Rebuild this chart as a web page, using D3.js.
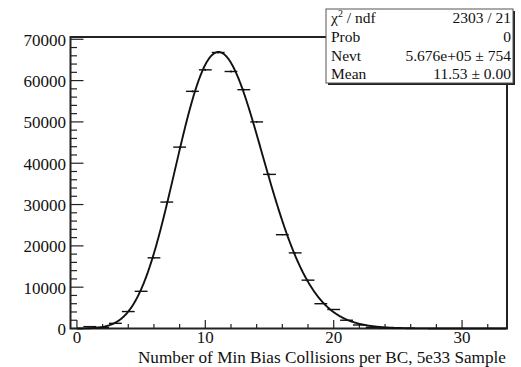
<!DOCTYPE html>
<html>
<head>
<meta charset="utf-8">
<script src="https://cdn.jsdelivr.net/npm/d3@7"></script>
<style>
  html, body { margin: 0; padding: 0; background: #fff; }
  svg { display: block; }
  text { font-family: "Liberation Serif", "Times New Roman", Times, serif; fill: #111; }
</style>
</head>
<body>
<svg id="chart" width="521" height="367"></svg>
<script>
// Histogram: entries per bin (bin centres 0..33, width 1)
const binCenters = d3.range(0, 34);
const binCounts = [
  0, 450, 250, 1250, 4100, 9000, 17100, 30600, 43900, 57400,
  62600, 66800, 62200, 57800, 50000, 37300, 22700, 18300, 11700, 6000,
  4600, 2000, 850, 300, 100, 30, 0, 0, 0, 0,
  0, 0, 0, 0
];
const xTicks = [0, 10, 20, 30];
const yTicks = [0, 10000, 20000, 30000, 40000, 50000, 60000, 70000];

// Poisson fit parameters
const fitNevt = 5.676e5;
const fitMean = 11.53;
const statRows = [
  ["χ2 / ndf", "2303 / 21"],
  ["Prob", "0"],
  ["Nevt", "5.676e+05 ± 754"],
  ["Mean", "11.53 ± 0.00"]
];
const xTitle = "Number of Min Bias Collisions per BC, 5e33 Sample";

const svg = d3.select("#chart");
const frame = { left: 70.5, right: 507, top: 37, bottom: 328.5 };

const x = d3.scaleLinear().domain([-0.5, 33.5]).range([frame.left, frame.right]);
const y = d3.scaleLinear().domain([0, 70550]).range([frame.bottom, frame.top]);

// log-gamma (Lanczos) for the continuous Poisson curve
function lgamma(z) {
  const g = 7;
  const c = [0.99999999999980993, 676.5203681218851, -1259.1392167224028,
    771.32342877765313, -176.61563092953313, 12.507343278686905,
    -0.13857109526572012, 9.9843695780195716e-6, 1.5056327351493116e-7];
  if (z < 0.5) return Math.log(Math.PI / Math.sin(Math.PI * z)) - lgamma(1 - z);
  z -= 1;
  let a = c[0];
  const t = z + g + 0.5;
  for (let i = 1; i < g + 2; i++) a += c[i] / (z + i);
  return 0.5 * Math.log(2 * Math.PI) + (z + 0.5) * Math.log(t) - t + Math.log(a);
}
const poisson = xv => fitNevt * Math.exp(xv * Math.log(fitMean) - fitMean - lgamma(xv + 1));

// Frame
svg.append("rect")
  .attr("x", frame.left).attr("y", frame.top)
  .attr("width", frame.right - frame.left).attr("height", frame.bottom - frame.top)
  .attr("fill", "none").attr("stroke", "#222").attr("stroke-width", 2);

// Y axis ticks (major + minor)
const yMinor = d3.range(0, 70001, 2000);
svg.append("g").selectAll("line").data(yMinor).join("line")
  .attr("x1", frame.left).attr("x2", d => frame.left + (d % 10000 === 0 ? 13 : 6.5))
  .attr("y1", d => y(d)).attr("y2", d => y(d))
  .attr("stroke", "#222").attr("stroke-width", 1.2);
svg.append("g").selectAll("text").data(yTicks).join("text")
  .attr("x", 66).attr("y", d => y(d) + 6.5)
  .attr("text-anchor", "end").attr("font-size", 17)
  .text(d => d);

// X axis ticks (major + minor)
const xMinor = d3.range(0, 34, 2);
svg.append("g").selectAll("line").data(xMinor).join("line")
  .attr("x1", d => x(d)).attr("x2", d => x(d))
  .attr("y1", frame.bottom).attr("y2", d => frame.bottom - (d % 10 === 0 ? 8.5 : 4.5))
  .attr("stroke", "#222").attr("stroke-width", 1.2);
svg.append("g").selectAll("text").data(xTicks).join("text")
  .attr("x", d => x(d)).attr("y", 343)
  .attr("text-anchor", "middle").attr("font-size", 17)
  .text(d => d);

svg.append("text")
  .attr("x", frame.right - 1).attr("y", 362.5)
  .attr("text-anchor", "end").attr("font-size", 17.2)
  .text(xTitle);

// Fit curve
const curveX = d3.range(0, 33.5, 0.05);
svg.append("path")
  .datum(curveX)
  .attr("fill", "none").attr("stroke", "#111").attr("stroke-width", 1.9)
  .attr("d", d3.line().x(d => x(d)).y(d => y(poisson(d))));

// Histogram points with errors
const bins = binCenters.map((c, i) => ({ c, n: binCounts[i] })).filter(b => b.n > 0);
const gp = svg.append("g").attr("stroke", "#111").attr("stroke-width", 1.4);
gp.selectAll("line.h").data(bins).join("line").attr("class", "h")
  .attr("x1", d => x(d.c - 0.5)).attr("x2", d => x(d.c + 0.5))
  .attr("y1", d => y(d.n)).attr("y2", d => y(d.n));
gp.selectAll("line.v").data(bins).join("line").attr("class", "v")
  .attr("x1", d => x(d.c)).attr("x2", d => x(d.c))
  .attr("y1", d => y(d.n - Math.sqrt(d.n))).attr("y2", d => y(d.n + Math.sqrt(d.n)));

// Statistics box with shadow
const box = { x: 326, y: 9, w: 187, h: 74 };
svg.append("rect")
  .attr("x", box.x + 2).attr("y", box.y + 2).attr("width", box.w).attr("height", box.h)
  .attr("fill", "#222");
svg.append("rect")
  .attr("x", box.x).attr("y", box.y).attr("width", box.w).attr("height", box.h)
  .attr("fill", "#fff").attr("stroke", "#555").attr("stroke-width", 1);

const rows = svg.append("g").selectAll("g").data(statRows).join("g")
  .attr("transform", (d, i) => `translate(0, ${23.3 + i * 18.7})`);
rows.append("text")
  .attr("x", box.x + 5).attr("font-size", 15.5)
  .each(function (d) {
    const t = d3.select(this);
    if (d[0].startsWith("χ2")) {
      t.append("tspan").text("χ");
      t.append("tspan").attr("font-size", 10).attr("dy", -6).text("2");
      t.append("tspan").attr("dy", 6).text(" / ndf");
    } else {
      t.text(d[0]);
    }
  });
rows.append("text")
  .attr("x", box.x + box.w - 2).attr("text-anchor", "end").attr("font-size", 15.5)
  .text(d => d[1]);
</script>
</body>
</html>
